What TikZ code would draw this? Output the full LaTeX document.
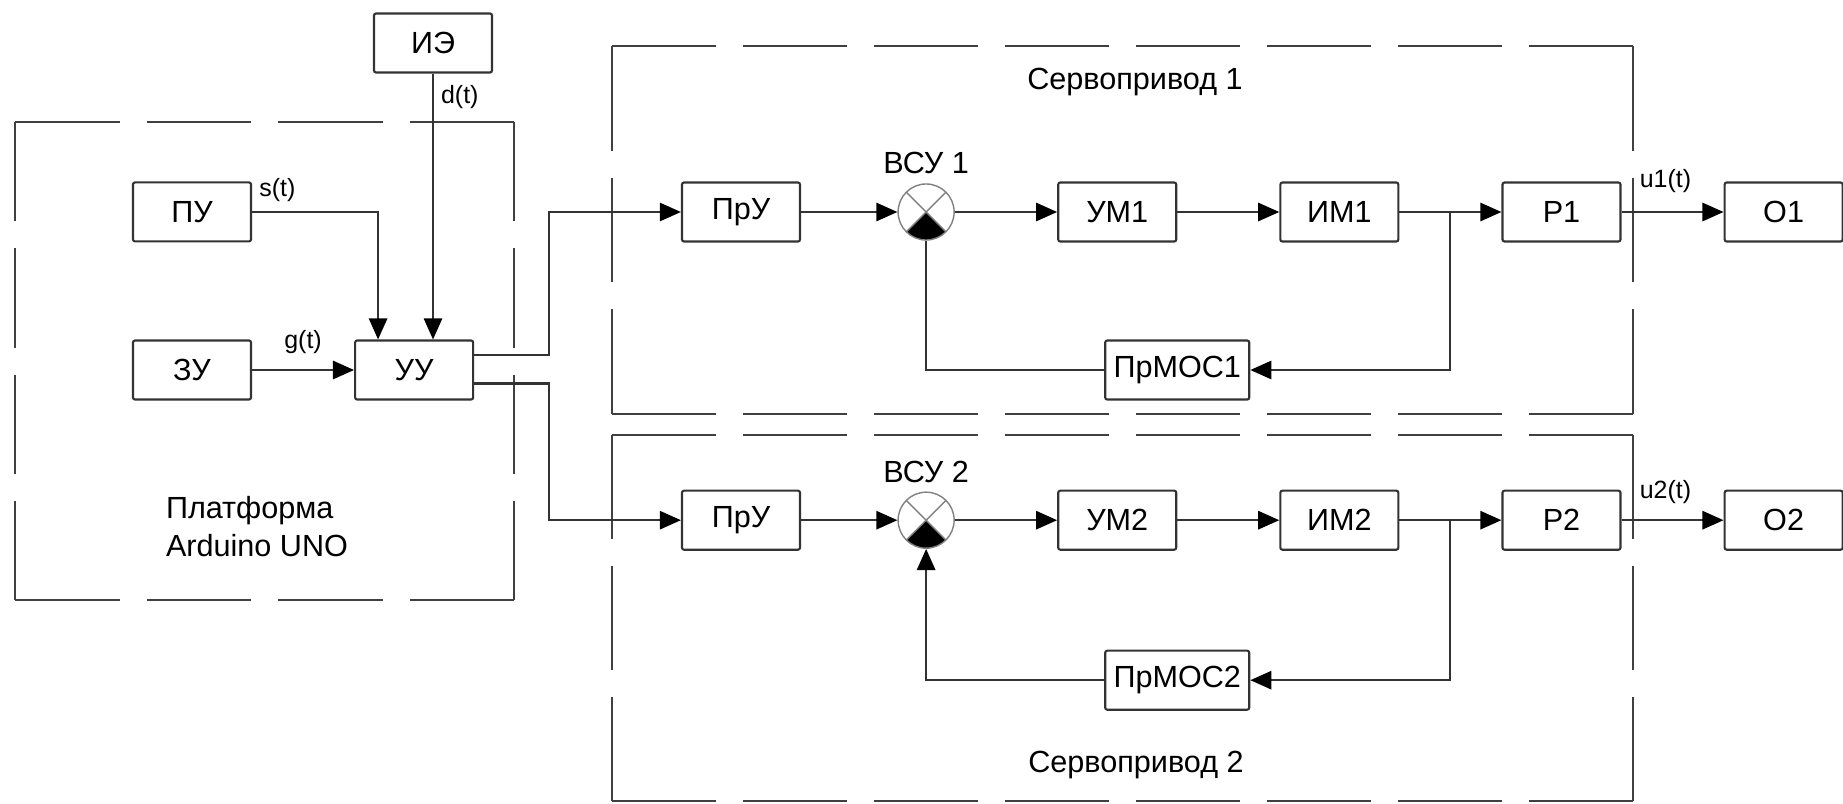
\documentclass[tikz,border=0pt]{standalone}
\usepackage{fontspec}
\setmainfont{Liberation Sans}
\usetikzlibrary{arrows.meta,positioning,calc}

% dashed frame whose sides all start and end with a dash
\newcommand\dashframe[4]{%
  \pgfmathsetmacro\fw{#3-#1}\pgfmathsetmacro\fh{#4-#2}%
  \pgfmathsetmacro\nw{round((\fw+27)/134)}\pgfmathsetmacro\dw{(\fw-(\nw-1)*27)/\nw*0.01}%
  \pgfmathsetmacro\nh{round((\fh+27)/134)}\pgfmathsetmacro\dh{(\fh-(\nh-1)*27)/\nh*0.01}%
  \draw[frame,dash pattern=on \dw cm off 0.27cm] (#1,#2) -- (#3,#2) (#1,#4) -- (#3,#4);
  \draw[frame,dash pattern=on \dh cm off 0.27cm] (#1,#2) -- (#1,#4) (#3,#2) -- (#3,#4);}

\begin{document}
\begin{tikzpicture}[x=0.01cm,y=-0.01cm,>={Triangle[length=6pt,width=5.2pt,color=black]},
                    node distance=2.22cm,line width=0.6pt,color=black!80,
                    font=\fontsize{8.7}{10.8}\selectfont]
  \tikzstyle{block}=[draw,rectangle,rounded corners=0.6pt,text=black,
                     minimum width=1.18cm,minimum height=0.59cm,inner sep=0pt]
  \tikzstyle{wide}=[block,minimum width=1.44cm]
  \tikzstyle{sumj}=[circle,draw=black!50,line width=0.4pt,minimum size=0.56cm,inner sep=0pt,
                    path picture={
                      \fill[black] (path picture bounding box.center)
                        -- (path picture bounding box.south west)
                        -- (path picture bounding box.south east) -- cycle;
                      \draw[black!50,line width=0.4pt]
                        (path picture bounding box.north west) -- (path picture bounding box.south east)
                        (path picture bounding box.north east) -- (path picture bounding box.south west);
                    }]
  \tikzstyle{sig}=[text=black,font=\fontsize{7.1}{8.5}\selectfont,inner sep=1.5pt]
  \tikzstyle{frame}=[draw=black!75,line width=0.6pt]

  \useasboundingbox (0,0) rectangle (1843,803);

  % platform
  \node[block] (ie) at (433,43) {ИЭ};
  \node[block] (zu) at (192,370) {ЗУ};
  \node[block] (pu) [above of=zu,node distance=1.58cm] {ПУ};
  \node[block] (uu) [right of=zu] {УУ};
  \coordinate (uuin) at ($(uu.north west)!0.2!(uu.north east)$);
  \coordinate (uuo1) at ($(uu.north east)!0.25!(uu.south east)$);
  \coordinate (uuo2) at ($(uu.north east)!0.72!(uu.south east)$);

  % servo 1
  \node[block] (pru1) at (741,212) {ПрУ};
  \node[sumj,label={[text=black,inner sep=2.3pt]above:ВСУ 1}] (sum1) [right of=pru1,node distance=1.85cm] {};
  \node[block] (um1) [right of=sum1,node distance=1.91cm] {УМ1};
  \node[block] (im1) [right of=um1] {ИМ1};
  \node[block] (r1) [right of=im1] {Р1};
  \node[block] (o1) [right of=r1] {О1};
  \node[wide] (fb1) at ($(um1)+(60,158)$) {ПрМОС1};
  \coordinate (br1) at ($(im1.east)!0.5!(r1.west)$);

  % servo 2
  \node[block] (pru2) [below of=pru1,node distance=3.08cm] {ПрУ};
  \node[sumj,label={[text=black,inner sep=2.3pt]above:ВСУ 2}] (sum2) [right of=pru2,node distance=1.85cm] {};
  \node[block] (um2) [right of=sum2,node distance=1.91cm] {УМ2};
  \node[block] (im2) [right of=um2] {ИМ2};
  \node[block] (r2) [right of=im2] {Р2};
  \node[block] (o2) [right of=r2] {О2};
  \node[wide] (fb2) at ($(um2)+(60,160)$) {ПрМОС2};
  \coordinate (br2) at ($(im2.east)!0.5!(r2.west)$);

  % frames
  \dashframe{15}{122}{514}{600}
  \dashframe{612}{46}{1633}{414}
  \dashframe{612}{435}{1633}{801}
  \node[text=black,align=left] (plat) at (257,527) {Платформа\\Arduino UNO};
  \node[text=black] (serv1) at (1135,82) {Сервопривод 1};
  \node[text=black] (serv2) at (1136,765) {Сервопривод 2};

  % signals
  \draw[->] (pu) -| node[sig,pos=0.1,above=1pt] {s(t)} (uuin);
  \draw[->] (ie) -- node[sig,pos=0.09,right=0.5pt] {d(t)} (ie |- uu.north);
  \draw[->] (zu) -- node[sig,above=2.8pt] {g(t)} (uu);
  \draw[->] (uuo1) -- ++(75,0) |- (pru1);
  \draw[->] (uuo2) -- ++(75,0) |- (pru2);

  \draw[->] (pru1) -- (sum1);
  \draw[->] (sum1) -- (um1);
  \draw[->] (um1) -- (im1);
  \draw[->] (im1) -- (r1);
  \draw[->] (r1) -- node[sig,pos=0.43,above=3.7pt] {u1(t)} (o1);
  \draw[->] (br1) |- (fb1);
  \draw (fb1) -| (sum1);

  \draw[->] (pru2) -- (sum2);
  \draw[->] (sum2) -- (um2);
  \draw[->] (um2) -- (im2);
  \draw[->] (im2) -- (r2);
  \draw[->] (r2) -- node[sig,pos=0.43,above=2.8pt] {u2(t)} (o2);
  \draw[->] (br2) |- (fb2);
  \draw[->] (fb2) -| (sum2);
\end{tikzpicture}
\end{document}
